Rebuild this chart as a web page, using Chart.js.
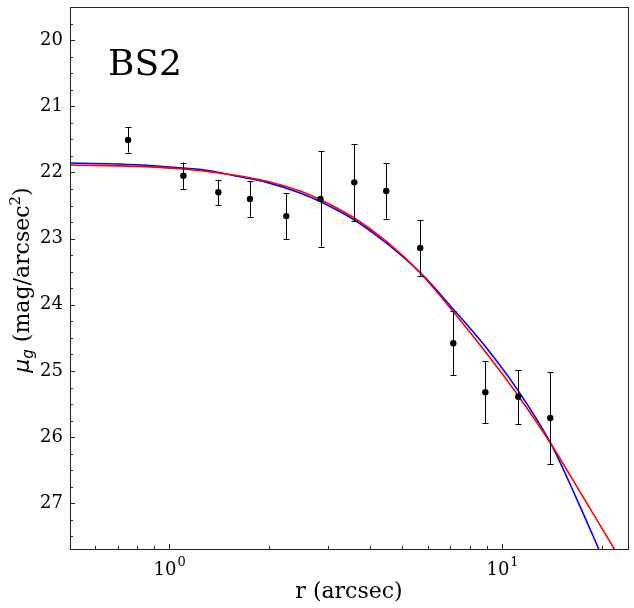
<!DOCTYPE html>
<html>
<head>
<meta charset="utf-8">
<script src="https://cdn.jsdelivr.net/npm/chart.js@4"></script>
<style>
  html, body { margin: 0; padding: 0; background: #fff; }
  canvas { display: block; }
</style>
</head>
<body>
<canvas id="myChart" width="634" height="608"></canvas>
<script>
// surface brightness profile
const radius = [0.753, 1.104, 1.406, 1.75, 2.25, 2.85, 3.60, 4.49, 5.68, 7.14, 8.91, 11.19, 13.96];
const muG = [21.51, 22.05, 22.30, 22.40, 22.66, 22.40, 22.15, 22.28, 23.14, 24.58, 25.32, 25.39, 25.71];
const muErr = [0.19, 0.20, 0.19, 0.27, 0.35, 0.72, 0.58, 0.42, 0.42, 0.48, 0.47, 0.41, 0.69];

// fitted curves
const redR = [0.504, 0.800, 1.104, 1.560, 1.966, 2.474, 2.841, 3.602, 4.506, 5.673, 7.141, 8.913, 11.19, 14.03, 17.35, 20.15, 23.89];
const redMu = [21.888, 21.909, 21.949, 22.039, 22.133, 22.281, 22.408, 22.689, 23.047, 23.515, 24.104, 24.709, 25.373, 26.103, 26.869, 27.412, 28.032];
const blueR = [0.504, 0.800, 1.104, 1.328, 1.560, 1.966, 2.474, 2.841, 3.602, 4.506, 5.673, 7.141, 8.913, 11.19, 14.03, 16.68, 18.47, 19.60, 20.25];
const blueMu = [21.858, 21.884, 21.934, 21.974, 22.047, 22.15, 22.31, 22.44, 22.719, 23.073, 23.511, 24.066, 24.63, 25.30, 26.10, 26.909, 27.412, 27.714, 27.90];

const xMajor = [1, 10];
const xMinor = [0.6, 0.7, 0.8, 0.9, 2, 3, 4, 5, 6, 7, 8, 9, 20];
const yMajor = [20, 21, 22, 23, 24, 25, 26, 27];

const serif = '"DejaVu Serif", serif';

const toXY = (xs, ys) => xs.map((x, i) => ({ x: x, y: ys[i] }));

const axesPlugin = {
    id: 'axesPlugin',
    beforeDatasetDraw(chart, args) {
        if (args.index !== 0) return;
        // error bars go under the points but over the curves
        const ctx = chart.ctx;
        const xs = chart.scales.x, ys = chart.scales.y;
        ctx.save();
        ctx.strokeStyle = '#000';
        ctx.lineWidth = 1;
        radius.forEach((r, i) => {
            const px = Math.round(xs.getPixelForValue(r)) + 0.5;
            const y1 = ys.getPixelForValue(muG[i] - muErr[i]);
            const y2 = ys.getPixelForValue(muG[i] + muErr[i]);
            ctx.beginPath();
            ctx.moveTo(px, y1); ctx.lineTo(px, y2);
            ctx.moveTo(px - 3, Math.round(y1) + 0.5); ctx.lineTo(px + 3, Math.round(y1) + 0.5);
            ctx.moveTo(px - 3, Math.round(y2) + 0.5); ctx.lineTo(px + 3, Math.round(y2) + 0.5);
            ctx.stroke();
        });
        ctx.restore();
    },
    afterDraw(chart) {
        const ctx = chart.ctx;
        const a = chart.chartArea;
        const xs = chart.scales.x, ys = chart.scales.y;
        ctx.save();
        // frame
        ctx.strokeStyle = '#222';
        ctx.lineWidth = 1;
        ctx.strokeRect(Math.round(a.left) + 0.5, Math.round(a.top) + 0.5,
            Math.round(a.right - a.left), Math.round(a.bottom - a.top));

        // inward ticks, left and bottom only
        ctx.beginPath();
        yMajor.forEach(v => {
            const py = Math.round(ys.getPixelForValue(v)) + 0.5;
            ctx.moveTo(a.left, py); ctx.lineTo(a.left + 5, py);
        });
        for (let v = 19.75; v < 27.7; v += 0.25) {
            if (Math.abs(v - Math.round(v)) < 0.01) continue;
            const py = Math.round(ys.getPixelForValue(v)) + 0.5;
            ctx.moveTo(a.left, py); ctx.lineTo(a.left + 3, py);
        }
        xMajor.forEach(v => {
            const px = Math.round(xs.getPixelForValue(v)) + 0.5;
            ctx.moveTo(px, a.bottom); ctx.lineTo(px, a.bottom - 5);
        });
        xMinor.forEach(v => {
            const px = Math.round(xs.getPixelForValue(v)) + 0.5;
            if (px < a.left || px > a.right) return;
            ctx.moveTo(px, a.bottom); ctx.lineTo(px, a.bottom - 3);
        });
        ctx.stroke();

        // tick labels
        ctx.fillStyle = '#000';
        ctx.font = '18px ' + serif;
        ctx.textAlign = 'right';
        ctx.textBaseline = 'middle';
        yMajor.forEach(v => {
            ctx.fillText(String(v), a.left - 7, ys.getPixelForValue(v));
        });
        ctx.textBaseline = 'alphabetic';
        xMajor.forEach((v, i) => {
            const px = xs.getPixelForValue(v);
            ctx.font = '18px ' + serif;
            const w1 = ctx.measureText('10').width;
            ctx.font = '13px ' + serif;
            const w2 = ctx.measureText(String(i)).width;
            const x0 = px - (w1 + w2) / 2;
            ctx.textAlign = 'left';
            ctx.font = '18px ' + serif;
            ctx.fillText('10', x0, a.bottom + 26);
            ctx.font = '13px ' + serif;
            ctx.fillText(String(i), x0 + w1 + 1, a.bottom + 17);
        });

        // x label
        ctx.font = '22px ' + serif;
        ctx.textAlign = 'center';
        ctx.fillText('r (arcsec)', (a.left + a.right) / 2, a.bottom + 49);

        // y label, rotated
        ctx.save();
        ctx.translate(29, (a.top + a.bottom) / 2 + 2);
        ctx.rotate(-Math.PI / 2);
        const parts = [
            { t: 'μ', f: 'italic 22px "DejaVu Sans"', dy: 0 },
            { t: 'g', f: 'italic 15px "DejaVu Sans"', dy: 4 },
            { t: ' (mag/arcsec', f: '22px ' + serif, dy: 0 },
            { t: '2', f: '15px ' + serif, dy: -9 },
            { t: ')', f: '22px ' + serif, dy: 0 }
        ];
        let total = 0;
        parts.forEach(p => { ctx.font = p.f; p.w = ctx.measureText(p.t).width; total += p.w; });
        let cx = -total / 2;
        ctx.textAlign = 'left';
        parts.forEach(p => {
            ctx.font = p.f;
            ctx.fillText(p.t, cx, p.dy);
            cx += p.w;
        });
        ctx.restore();

        // panel name
        ctx.font = '36px ' + serif;
        ctx.textAlign = 'left';
        ctx.fillText('BS2', 108, 75);
        ctx.restore();
    }
};

new Chart(document.getElementById('myChart').getContext('2d'), {
    type: 'scatter',
    data: {
        datasets: [
            {
                label: 'data',
                data: toXY(radius, muG),
                backgroundColor: '#000',
                borderWidth: 0,
                pointRadius: 3.2,
                showLine: false
            },
            {
                label: 'fit red',
                data: toXY(redR, redMu),
                showLine: true,
                borderColor: '#ff0000',
                borderWidth: 1.6,
                pointRadius: 0,
                cubicInterpolationMode: 'monotone'
            },
            {
                label: 'fit blue',
                data: toXY(blueR, blueMu),
                showLine: true,
                borderColor: '#0000ff',
                borderWidth: 1.6,
                pointRadius: 0,
                cubicInterpolationMode: 'monotone'
            }
        ]
    },
    options: {
        responsive: false,
        animation: false,
        devicePixelRatio: 1,
        layout: { padding: { left: 70, right: 6, top: 7, bottom: 59 } },
        plugins: { legend: { display: false }, tooltip: { enabled: false } },
        scales: {
            x: { type: 'logarithmic', min: 0.504, max: 23.9, display: false },
            y: { type: 'linear', reverse: true, min: 19.5, max: 27.69, display: false }
        }
    },
    plugins: [axesPlugin]
});
</script>
</body>
</html>
